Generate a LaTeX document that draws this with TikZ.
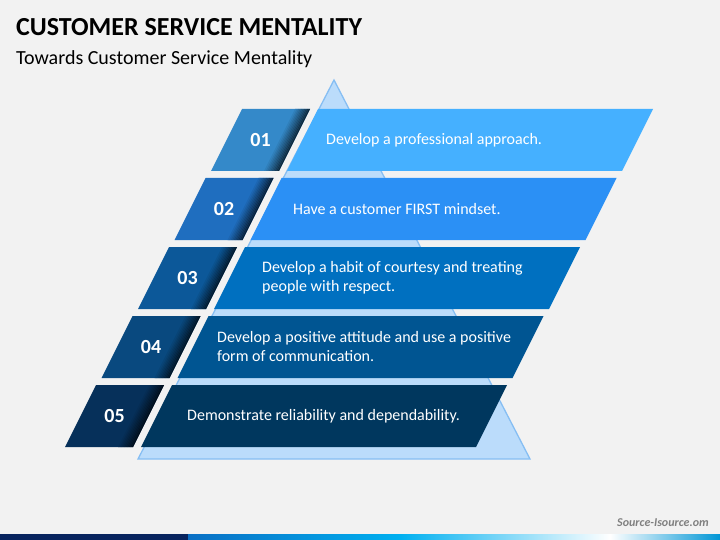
\documentclass[tikz,border=0pt]{standalone}
\usepackage{fontspec}
\setmainfont{Carlito}
\usepackage{xcolor}
\usepackage{tikz}
\usetikzlibrary{calc,positioning}
\definecolor{bgcol}{HTML}{F2F2F2}
\definecolor{tricol}{HTML}{BBDCFB}
\definecolor{triline}{HTML}{86BEF3}
\definecolor{bandA}{HTML}{45B0FF}
\definecolor{bandB}{HTML}{2B90F5}
\definecolor{bandC}{HTML}{0070C0}
\definecolor{bandD}{HTML}{005592}
\definecolor{bandE}{HTML}{00375E}
\definecolor{boxA}{HTML}{3489C9}
\definecolor{boxB}{HTML}{1F6EBF}
\definecolor{boxC}{HTML}{0C5899}
\definecolor{boxD}{HTML}{09497F}
\definecolor{boxE}{HTML}{06305A}
\definecolor{navy}{HTML}{08245E}
\definecolor{footA}{HTML}{0A6FC4}
\definecolor{footB}{HTML}{00B0F0}
\definecolor{footC}{HTML}{0096D6}
\tikzset{
  numtxt/.style={text=white,font=\bfseries\fontsize{20}{22}\selectfont},
  bandtxt/.style={text=white,anchor=west,align=left,inner sep=0,font=\fontsize{16}{19}\selectfont},
}
\begin{document}
\begin{tikzpicture}[x=1pt,y=-1pt]
 	\fill[bgcol] (0,0) rectangle (720,540);
 	\useasboundingbox (0,0) rectangle (720,540);
 	\node[anchor=base west,inner sep=0,font=\bfseries\fontsize{26}{30}\selectfont] (title) at (16,36) {CUSTOMER SERVICE MENTALITY};
 	\node[anchor=base west,inner sep=0,font=\fontsize{20}{24}\selectfont] (subtitle) at (16,65) {Towards Customer Service Mentality};
 	\filldraw[fill=tricol,draw=triline,line width=1.3] (334,80) -- (530,459) -- (138,459) -- cycle;
 	\foreach \i/\bc/\nc/\num/\tx/\lbl in {
 	   0/bandA/boxA/01/326/{Develop a professional approach.},
 	   1/bandB/boxB/02/293/{Have a customer FIRST mindset.},
 	   2/bandC/boxC/03/262/{Develop a habit of courtesy and treating\\people with respect.},
 	   3/bandD/boxD/04/217/{Develop a positive attitude and use a positive\\form of communication.},
 	   4/bandE/boxE/05/187/{Demonstrate reliability and dependability.}}{
 	   \pgfmathsetmacro{\T}{109+69*\i}
 	   \pgfmathsetmacro{\B}{\T+62}
 	   \pgfmathsetmacro{\L}{318-36.5*\i}
 	   \pgfmathsetmacro{\BL}{\L-76}
 	   \fill[\bc] (\L,\T) -- (\L+335,\T) -- (\L+304,\B) -- (\L-31,\B) -- cycle;
 	   \fill[\nc] (\BL,\T) -- (\BL+68,\T) -- (\BL+37,\B) -- (\BL-31,\B) -- cycle;
 	   \foreach \k in {0,...,9}{
 	      \pgfmathsetmacro{\p}{30+7*\k}
 	      \fill[\nc!\p!black] (\BL+68-1.5*\k-1.5,\T) -- (\BL+68-1.5*\k,\T) -- (\BL+37-1.5*\k,\B) -- (\BL+37-1.5*\k-1.5,\B) -- cycle;
 	   }
 	   \node[numtxt] (num\num) at (\BL+18.5,\T+31) {\num};
 	   \node[bandtxt] (txt\num) at (\tx,\T+31) {\lbl};
 	}
 	\fill[navy] (0,534) rectangle (188,540);
 	\shade[left color=footA,right color=footB] (188,534) rectangle (400,540);
 	\shade[left color=footB,right color=white] (400,534) rectangle (610,540);
 	\shade[left color=white,right color=footC] (610,534) rectangle (720,540);
 	\node[anchor=east,inner sep=0,text=gray,font=\bfseries\itshape\fontsize{12}{14}\selectfont] (source) at (709,523) {Source-Isource.om};
\end{tikzpicture}
\end{document}
